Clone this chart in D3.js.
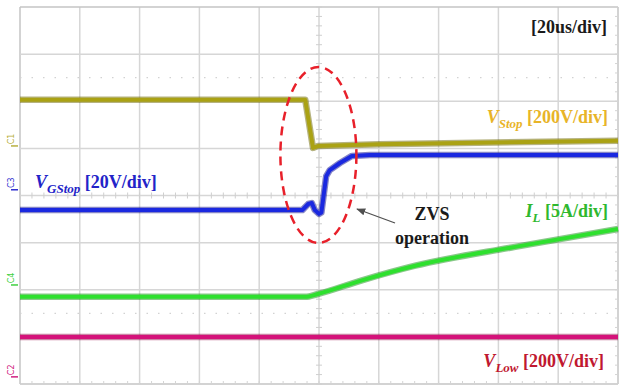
<!DOCTYPE html>
<html lang="en">
    <head>
        <title>ZVS turn-on waveforms</title>
        <script src="https://d3js.org/d3.v7.min.js"></script>
        <style>
            body { margin: 0; background: #ffffff; }
            text { font-family: 'Liberation Serif', 'Times New Roman', serif; font-weight: bold; }
        </style>
    </head>
    <body>
    <div id="mainDiv"></div>

        <script type="text/javascript">
            const width = 635
            const height = 390

            const margins = { top: 7, bottom: 6, left: 20, right: 17 }

            // screen grid: 10 time divisions x 8 vertical divisions
            const timeDivs = d3.range(0, 11)
            const voltDivs = d3.range(-4, 5)
            const markerDivs = [2.5, -2.5] // dotted cursor rows

            // traces, time in div, value in div from the screen centre
            const vstopT = [0, 4.77, 4.90, 4.98, 6.0, 10]
            const vstopV = [2.03, 2.03, 1.01, 1.05, 1.09, 1.16]

            const vgsT = [0, 4.72, 4.82, 4.88, 4.93, 5.0, 5.04, 5.12, 5.18, 5.35, 5.55, 5.85, 10]
            const vgsV = [-0.31, -0.31, -0.18, -0.16, -0.31, -0.39, -0.36, 0.41, 0.54, 0.69, 0.84, 0.86, 0.86]

            const ilT = [0, 4.77, 4.98, 5.69, 6.61, 8.28, 10]
            const ilV = [-2.15, -2.15, -2.09, -1.81, -1.49, -1.09, -0.71]

            const vlowT = [0, 10]
            const vlowV = [-3.0, -3.0]

            const svg = d3.select('#mainDiv').append('svg')
                .attr('width', width)
                .attr('height', height)

            const x = d3.scaleLinear().domain([0, 10]).range([margins.left, width - margins.right])
            const y = d3.scaleLinear().domain([4, -4]).range([margins.top, height - margins.bottom])

            const grid = svg.append('g')

            // grid lines
            grid.selectAll('.vline').data(timeDivs).enter().append('line')
                .attr('x1', d => x(d)).attr('x2', d => x(d))
                .attr('y1', y(4)).attr('y2', y(-4))
                .attr('stroke', d => (d === 0 || d === 10) ? '#c4c4c4' : '#d6d6d6')
                .attr('stroke-width', 1.5)
            grid.selectAll('.hline').data(voltDivs).enter().append('line')
                .attr('x1', x(0)).attr('x2', x(10))
                .attr('y1', d => y(d)).attr('y2', d => y(d))
                .attr('stroke', d => (d === 4 || d === -4) ? '#c4c4c4' : '#d6d6d6')
                .attr('stroke-width', 1.5)

            // dotted cursor rows
            grid.selectAll('.dot').data(markerDivs).enter().append('line')
                .attr('x1', x(0)).attr('x2', x(10))
                .attr('y1', d => y(d)).attr('y2', d => y(d))
                .attr('stroke', '#d2d2d2')
                .attr('stroke-width', 1.2)
                .attr('stroke-dasharray', '1.5,10')

            // minor ticks on the centre axes and on the bottom / right edges
            const minorT = d3.range(0, 10.01, 0.2)
            const minorV = d3.range(-4, 4.01, 0.2)
            grid.selectAll('.tx').data(minorT).enter().append('line')
                .attr('x1', d => x(d)).attr('x2', d => x(d))
                .attr('y1', y(0) - 3).attr('y2', y(0) + 3)
                .attr('stroke', '#cfcfcf')
            grid.selectAll('.ty').data(minorV).enter().append('line')
                .attr('x1', x(5) - 3).attr('x2', x(5) + 3)
                .attr('y1', d => y(d)).attr('y2', d => y(d))
                .attr('stroke', '#cfcfcf')
            grid.selectAll('.bx').data(minorT).enter().append('line')
                .attr('x1', d => x(d)).attr('x2', d => x(d))
                .attr('y1', y(-4) - 3).attr('y2', y(-4))
                .attr('stroke', '#d4d4d4')
            grid.selectAll('.rx').data(minorV).enter().append('line')
                .attr('x1', x(10) - 3).attr('x2', x(10))
                .attr('y1', d => y(d)).attr('y2', d => y(d))
                .attr('stroke', '#d4d4d4')

            const line = d3.line().x(d => x(d[0])).y(d => y(d[1]))
            const smooth = d3.line().x(d => x(d[0])).y(d => y(d[1])).curve(d3.curveMonotoneX)

            const traces = [
                { t: vstopT, v: vstopV, color: '#aaa214', dark: '#6e6800', gen: line },
                { t: vlowT, v: vlowV, color: '#d4127a', dark: '#9a0a4a', gen: line },
                { t: ilT, v: ilV, color: '#2ee02e', dark: '#169016', gen: smooth },
                { t: vgsT, v: vgsV, color: '#1a28e0', dark: '#0a0a90', gen: line }
            ]

            const traceGroup = svg.append('g')
            traces.forEach(tr => {
                const pts = tr.t.map((t, i) => [t, tr.v[i]])
                traceGroup.append('path')
                    .attr('d', tr.gen(pts))
                    .attr('fill', 'none')
                    .attr('stroke', tr.dark)
                    .attr('stroke-width', 6.5)
                    .attr('stroke-opacity', 0.5)
                    .attr('stroke-linejoin', 'round')
                traceGroup.append('path')
                    .attr('d', tr.gen(pts))
                    .attr('fill', 'none')
                    .attr('stroke', tr.color)
                    .attr('stroke-width', 4)
                    .attr('stroke-linejoin', 'round')
            })

            // channel markers on the left edge
            const markers = [
                { label: 'C1', v: 1.2, color: '#b8b040' },
                { label: 'C3', v: 0.27, color: '#3030d0' },
                { label: 'C4', v: -1.75, color: '#40d040' },
                { label: 'C2', v: -3.7, color: '#d02080' }
            ]
            markers.forEach(m => {
                svg.append('text')
                    .attr('transform', `translate(${x(0) - 6}, ${y(m.v)}) rotate(-90)`)
                    .attr('text-anchor', 'middle')
                    .attr('font-size', 8)
                    .style('font-family', 'DejaVu Sans')
                    .style('font-weight', 'normal')
                    .attr('fill', m.color)
                    .text(m.label)
                svg.append('line')
                    .attr('x1', x(0) - 9).attr('x2', x(0) - 2)
                    .attr('y1', y(m.v) + 7).attr('y2', y(m.v) + 7)
                    .attr('stroke', m.color).attr('stroke-width', 1.5)
            })

            // labels
            svg.append('text').attr('x', 607).attr('y', 33)
                .attr('text-anchor', 'end').attr('font-size', 18).attr('fill', '#1a1a1a')
                .text('[20us/div]')

            function channelLabel(xPos, yPos, anchor, main, sub, rest, color) {
                const t = svg.append('text').attr('x', xPos).attr('y', yPos)
                    .attr('text-anchor', anchor).attr('font-size', 18).attr('fill', color)
                t.append('tspan').style('font-style', 'italic').text(main)
                t.append('tspan').style('font-style', 'italic').attr('font-size', 13).attr('dy', 5).text(sub)
                t.append('tspan').attr('dy', -5).text(' ' + rest)
            }

            channelLabel(608, 123, 'end', 'V', 'Stop', '[200V/div]', '#e8b428')
            channelLabel(35, 188, 'start', 'V', 'GStop', '[20V/div]', '#2323c8')
            channelLabel(608, 217, 'end', 'I', 'L', '[5A/div]', '#2fb82f')
            channelLabel(604, 367, 'end', 'V', 'Low', '[200V/div]', '#c01830')

            svg.append('text').attr('x', 432).attr('y', 220)
                .attr('text-anchor', 'middle').attr('font-size', 18).attr('fill', '#1a1a1a')
                .text('ZVS')
            svg.append('text').attr('x', 432).attr('y', 244)
                .attr('text-anchor', 'middle').attr('font-size', 18).attr('fill', '#1a1a1a')
                .text('operation')

            // arrow
            svg.append('defs').append('marker')
                .attr('id', 'arr').attr('viewBox', '0 0 10 10')
                .attr('refX', 9).attr('refY', 5)
                .attr('markerWidth', 7).attr('markerHeight', 7)
                .attr('orient', 'auto')
                .append('path').attr('d', 'M0,1 L10,5 L0,9 Z').attr('fill', '#505050')
            svg.append('line')
                .attr('x1', 395).attr('y1', 223).attr('x2', 357).attr('y2', 209)
                .attr('stroke', '#505050').attr('stroke-width', 1.3)
                .attr('marker-end', 'url(#arr)')

            // dashed ellipse around the switching instant
            svg.append('ellipse')
                .attr('cx', x(4.99)).attr('cy', y(0.86))
                .attr('rx', 38).attr('ry', 88)
                .attr('fill', 'none')
                .attr('stroke', '#e8202a')
                .attr('stroke-width', 2.5)
                .attr('stroke-dasharray', '9,6')
        </script>
    </body>
</html>
